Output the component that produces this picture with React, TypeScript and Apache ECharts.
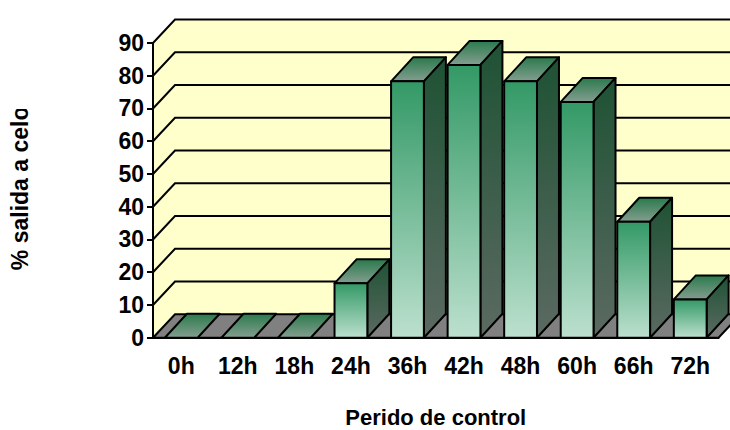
import React, { useEffect, useRef } from "react";
import * as echarts from "echarts";

const categories = ["0h", "12h", "18h", "24h", "36h", "42h", "48h", "60h", "66h", "72h"];
const values = [0, 0, 0, 16.6, 78.3, 83.3, 78.3, 72, 35.4, 11.7];
const yTicks = [0, 10, 20, 30, 40, 50, 60, 70, 80, 90];

const DX = 22;
const DY = 23.4;
const BAR_DY = 24;
const BAR_RATIO = 0.58;
const FONT = "'Liberation Sans', Arial, sans-serif";

const vGrad = (top: string, bottom: string) => ({
  type: "linear", x: 0, y: 0, x2: 0, y2: 1,
  colorStops: [{ offset: 0, color: top }, { offset: 1, color: bottom }],
});
const EDGE = { stroke: "#000", lineWidth: 2, lineJoin: "round" };

const wallItem = (_: any, api: any) => {
  const band = api.size([1, 0])[0];
  const l = api.coord([0, 0])[0] - band / 2;
  const r = api.coord([categories.length - 1, 0])[0] + band / 2;
  const b = api.coord([0, 0])[1];
  const t = api.coord([0, yTicks[yTicks.length - 1]])[1];
  return {
    type: "group",
    children: [
      { type: "polygon", shape: { points: [[l, t], [l + DX, t - DY], [r + DX, t - DY], [r + DX, b - DY], [l + DX, b - DY], [l, b]] }, style: { fill: "#FFFFCC" } },
      { type: "polygon", shape: { points: [[l, b], [l + DX, b - DY], [r + DX, b - DY], [r, b]] }, style: { fill: "#808080", stroke: "#000", lineWidth: 2 } },
    ],
  };
};

const gridItem = (_: any, api: any) => {
  const band = api.size([1, 0])[0];
  const [c, y] = api.coord([0, api.value(1)]);
  const l = c - band / 2;
  const r = api.coord([categories.length - 1, 0])[0] + band / 2;
  return {
    type: "polyline",
    shape: { points: [[l, y], [l + DX, y - DY], [r + DX, y - DY]] },
    style: { stroke: "#000", lineWidth: 2, fill: "none" },
  };
};

const barItem = (_: any, api: any) => {
  const w = api.size([1, 0])[0] * BAR_RATIO;
  const [cx, y] = api.coord([api.value(0), api.value(1)]);
  const b = api.coord([0, 0])[1];
  const l = cx - w / 2;
  const r = cx + w / 2;
  const children: any[] = [];
  children.push({
    type: "polygon",
    shape: { points: [[l, y], [l + DX, y - BAR_DY], [r + DX, y - BAR_DY], [r, y]] },
    style: { ...EDGE, fill: vGrad("#2A7A4C", "#849E90") },
  });
  if (b - y > 0.5) {
    children.push({
      type: "polygon",
      shape: { points: [[r, y], [r + DX, y - BAR_DY], [r + DX, b - BAR_DY], [r, b]] },
      style: { ...EDGE, fill: vGrad("#1E5234", "#5C6A62") },
    });
    children.push({
      type: "rect",
      shape: { x: l, y, width: w, height: b - y },
      style: { ...EDGE, fill: vGrad("#339966", "#BCE0CE") },
    });
  }
  return { type: "group", children };
};

export default function App() {
  const ref = useRef<HTMLDivElement>(null);
  useEffect(() => {
    document.body.style.margin = "0";
    const chart = echarts.init(ref.current!, null, { renderer: "svg" });
    chart.setOption({
      animation: false,
      backgroundColor: "#fff",
      grid: { left: 153, right: 11.5, top: 43, bottom: 92.3, outerBoundsMode: "none" },
      xAxis: {
        type: "category",
        data: categories,
        name: "Perido de control",
        nameLocation: "middle",
        nameGap: 71,
        nameTextStyle: { fontFamily: FONT, fontWeight: "bold", fontSize: 22, lineHeight: 18, color: "#000" },
        axisLine: { lineStyle: { color: "#000", width: 2 } },
        axisTick: { length: 6, lineStyle: { color: "#000", width: 2 } },
        axisLabel: { fontFamily: FONT, fontWeight: "bold", fontSize: 23, color: "#000", margin: 17, interval: 0 },
        z: 5,
      },
      yAxis: {
        type: "value",
        min: 0,
        max: 90,
        interval: 10,
        name: "% salida a celo",
        nameLocation: "middle",
        nameGap: 122,
        nameTextStyle: { fontFamily: FONT, fontWeight: "bold", fontSize: 23, color: "#000", padding: [0, 0, 0, 4] },
        axisLine: { show: true, lineStyle: { color: "#000", width: 2 } },
        axisTick: { show: true, length: 6, lineStyle: { color: "#000", width: 2 } },
        axisLabel: { fontFamily: FONT, fontWeight: "bold", fontSize: 23, color: "#000", margin: 9 },
        splitLine: { show: false },
        z: 5,
      },
      graphic: [
        { type: "rect", silent: true, z: 100, shape: { x: 5, y: 98, width: 35, height: 11 }, style: { fill: "#fff" } },
      ],
      series: [
        { type: "custom", renderItem: wallItem, data: [[0, 0]], encode: { x: 0, y: 1 }, z: 1, silent: true },
        { type: "custom", renderItem: gridItem, data: yTicks.slice(1).map((v) => [0, v]), encode: { x: 0, y: 1 }, z: 2, silent: true },
        { type: "custom", renderItem: barItem, data: values.map((v, i) => [i, v]), encode: { x: 0, y: 1 }, z: 3, silent: true },
      ],
    });
    return () => chart.dispose();
  }, []);
  return <div ref={ref} style={{ width: 730, height: 430, position: "absolute", left: 0, top: 0 }} />;
}
